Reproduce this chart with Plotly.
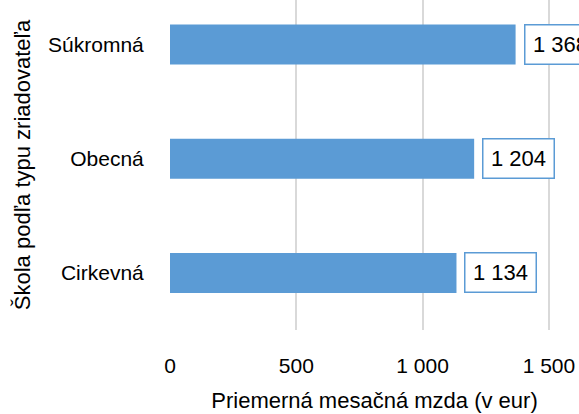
import plotly.graph_objects as go

categories = ["Cirkevná", "Obecná", "Súkromná"]
wages = [1134, 1204, 1368]
wage_labels = ["1 134", "1 204", "1 368"]
x_ticks = [0, 500, 1000, 1500]
x_tick_labels = ["0", "500", "1 000", "1 500"]

BLUE = "#5B9BD5"
FONT = "Liberation Sans, Arial, sans-serif"

fig = go.Figure(
    go.Bar(
        x=wages,
        y=categories,
        orientation="h",
        marker=dict(color=BLUE, line=dict(width=0)),
        width=0.35,
    )
)

# value labels in small boxes next to the bars
for cat, val, lab in zip(categories, wages, wage_labels):
    fig.add_annotation(
        x=val, y=cat,
        text=lab,
        xanchor="left", yanchor="middle",
        xshift=8,
        showarrow=False,
        font=dict(size=22, color="#000000", family=FONT),
        bgcolor="white",
        bordercolor=BLUE,
        borderwidth=1.5,
        borderpad=2,
        width=66, height=34,
    )

tick_font = dict(family=FONT, size=21, color="#000000")

fig.update_layout(
    width=579, height=414,
    margin=dict(l=170, r=0, t=0, b=84),
    plot_bgcolor="white",
    paper_bgcolor="white",
    font=dict(family=FONT, size=21, color="#000000"),
    showlegend=False,
    xaxis=dict(
        range=[0, 1619],
        tickvals=x_ticks,
        ticktext=x_tick_labels,
        tickfont=tick_font,
        showgrid=True,
        gridcolor="#D9D9D9",
        gridwidth=1.5,
        zeroline=False,
        showline=False,
        ticks="outside",
        ticklen=17,
        tickcolor="rgba(0,0,0,0)",
        automargin=False,
        title=dict(text="Priemerná mesačná mzda (v eur)", standoff=16,
                   font=dict(family=FONT, size=22, color="#000000")),
    ),
    yaxis=dict(
        range=[-0.5, 2.39],
        tickfont=tick_font,
        showgrid=False,
        zeroline=False,
        showline=False,
        ticks="outside",
        ticklen=21,
        tickcolor="rgba(0,0,0,0)",
        automargin=False,
        title=dict(text="Škola podľa typu zriadovateľa", standoff=11,
                   font=dict(family=FONT, size=22, color="#000000")),
    ),
)

# drop the default page margin so the figure sits at the window's corner
fig.write_html("out.html", config={"displayModeBar": False},
               post_script="document.body.style.margin='0';")
